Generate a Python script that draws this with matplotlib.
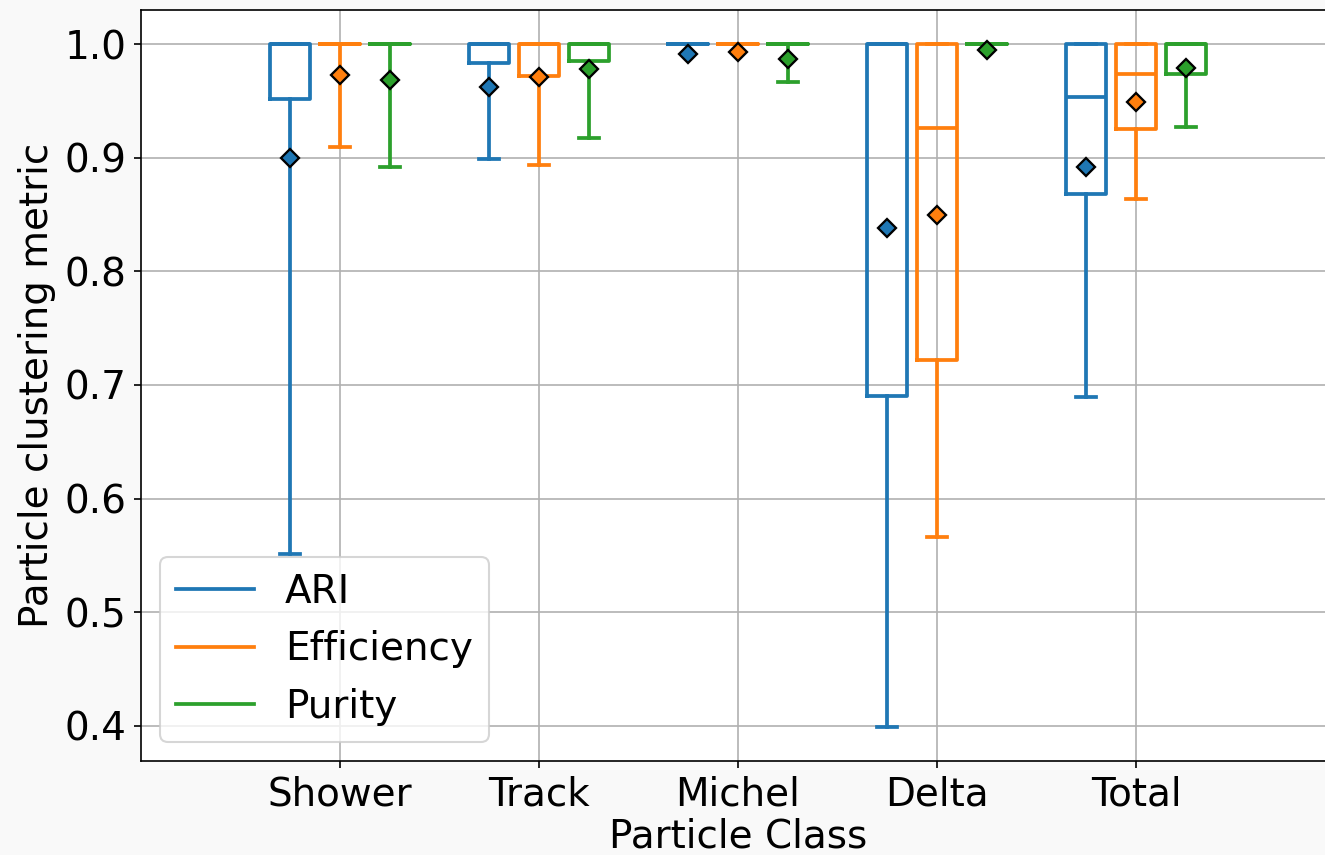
import matplotlib
matplotlib.use("Agg")
import matplotlib.pyplot as plt
from matplotlib.lines import Line2D

# box stats, one list per metric, order = classes
classes = ["Shower", "Track", "Michel", "Delta", "Total"]
metrics = ["ARI", "Efficiency", "Purity"]
colors = ["#1f77b4", "#ff7f0e", "#2ca02c"]

ari_q1 = [0.952, 0.983, 1.0, 0.690, 0.868]
ari_med = [1.0, 1.0, 1.0, 1.0, 0.953]
ari_q3 = [1.0, 1.0, 1.0, 1.0, 1.0]
ari_lo = [0.551, 0.899, 1.0, 0.399, 0.689]
ari_hi = [1.0, 1.0, 1.0, 1.0, 1.0]
ari_mean = [0.900, 0.962, 0.991, 0.838, 0.892]

eff_q1 = [1.0, 0.972, 1.0, 0.722, 0.925]
eff_med = [1.0, 1.0, 1.0, 0.926, 0.974]
eff_q3 = [1.0, 1.0, 1.0, 1.0, 1.0]
eff_lo = [0.909, 0.894, 1.0, 0.566, 0.864]
eff_hi = [1.0, 1.0, 1.0, 1.0, 1.0]
eff_mean = [0.973, 0.971, 0.993, 0.850, 0.949]

pur_q1 = [1.0, 0.985, 1.0, 1.0, 0.974]
pur_med = [1.0, 1.0, 1.0, 1.0, 1.0]
pur_q3 = [1.0, 1.0, 1.0, 1.0, 1.0]
pur_lo = [0.892, 0.917, 0.967, 1.0, 0.927]
pur_hi = [1.0, 1.0, 1.0, 1.0, 1.0]
pur_mean = [0.968, 0.978, 0.987, 0.995, 0.979]

all_stats = [
    (ari_q1, ari_med, ari_q3, ari_lo, ari_hi, ari_mean),
    (eff_q1, eff_med, eff_q3, eff_lo, eff_hi, eff_mean),
    (pur_q1, pur_med, pur_q3, pur_lo, pur_hi, pur_mean),
]

plt.rcParams["font.size"] = 18.7

fig = plt.figure(figsize=(1325 / 150, 855 / 150), dpi=150, facecolor="#f9f9f9")
ax = fig.add_axes([141 / 1325, 94 / 855, 1194 / 1325, 751 / 855])
ax.set_facecolor("white")
ax.set_axisbelow(True)
ax.grid(True, color="#b0b0b0", linewidth=0.8)

lw = 1.8
offsets = [-0.25, 0.0, 0.25]
for k, (q1, med, q3, lo, hi, mean) in enumerate(all_stats):
    stats = []
    for i in range(len(classes)):
        stats.append(dict(q1=q1[i], med=med[i], q3=q3[i], whislo=lo[i],
                          whishi=hi[i], mean=mean[i], fliers=[]))
    c = colors[k]
    ax.bxp(stats, positions=[i + offsets[k] for i in range(len(classes))],
           widths=0.2, showmeans=True, showfliers=False,
           boxprops=dict(color=c, linewidth=lw),
           whiskerprops=dict(color=c, linewidth=lw),
           capprops=dict(color=c, linewidth=lw),
           medianprops=dict(color=c, linewidth=lw),
           meanprops=dict(marker="D", markerfacecolor=c, markeredgecolor="black",
                          markersize=6.3, markeredgewidth=1.1))

ax.set_xlim(-1, 5)
ax.set_ylim(0.369, 1.030)
ax.set_xticks(range(len(classes)))
ax.set_xticklabels(classes)
ax.set_yticks([0.4, 0.5, 0.6, 0.7, 0.8, 0.9, 1.0])
ax.set_xlabel("Particle Class", labelpad=2)
ax.set_ylabel("Particle clustering metric")

handles = [Line2D([], [], color=c, linewidth=lw) for c in colors]
ax.legend(handles, metrics, loc="lower left", bbox_to_anchor=(0.0, 0.0),
          borderaxespad=0.5)

fig.savefig("out.png", dpi=150, facecolor=fig.get_facecolor())
